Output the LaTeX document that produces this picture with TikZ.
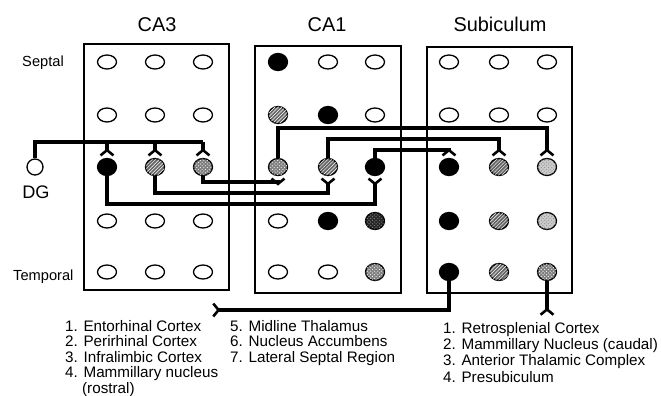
\documentclass[tikz,border=0pt]{standalone}
\usepackage{fontspec}
\setmainfont{Liberation Sans}
\usepackage{tikz}
\usetikzlibrary{arrows.meta}
\usetikzlibrary{positioning}
\usetikzlibrary{shapes.geometric}
\usetikzlibrary{patterns}
\usetikzlibrary{fit}
\tikzset{
  region/.style={rectangle,draw,line width=1pt,inner sep=0pt},
  cellopen/.style={ellipse,draw,line width=1.1pt,fill=white,minimum width=0.57cm,minimum height=0.42cm,inner sep=0pt},
  cellbase/.style={ellipse,draw,line width=1.1pt,minimum width=0.57cm,minimum height=0.51cm,inner sep=0pt},
  cellfull/.style={cellbase,fill=black},
  cellhatch/.style={cellbase,fill=black!60,postaction={pattern=north east lines,pattern color=white}},
  celldots/.style={cellbase,fill=black!50,postaction={pattern=crosshatch dots,pattern color=white}},
  celllight/.style={cellbase,fill=black!20,postaction={pattern=crosshatch dots,pattern color=black!45}},
  celldark/.style={cellbase,fill=black!85,postaction={pattern=crosshatch dots,pattern color=black!45}},
  wire/.style={line width=2.6pt},
  syn/.style={-{Straight Barb[reversed,length=4.5pt,width=11pt,line width=2.2pt]}},
  title/.style={font=\fontsize{17}{20}\selectfont,anchor=base},
  side/.style={font=\fontsize{12.5}{15}\selectfont,anchor=base west,inner sep=0pt},
  list/.style={align=left,anchor=north west,inner sep=0pt}
}
\begin{document}
\begin{tikzpicture}[x=0.03cm,y=-0.03cm]
  \useasboundingbox (0,0) rectangle (661,396);
  % regions
  \node [region,fit={(84,44) (229,290)}] (ca3) {};
  \node [region,fit={(255,46) (401,293)}] (ca1) {};
  \node [region,fit={(427,47) (572,293)}] (sub) {};
  \node [title] at (157,32) (ca3-t) {CA3};
  \node [title] at (327,32) (ca1-t) {CA1};
  \node [title] at (500,32) (sub-t) {Subiculum};
  \node [side] at (22,67) (septal) {Septal};
  \node [side] at (13,280) (temporal) {Temporal};
  % cells, septal (row 1) to temporal (row 5)
  \foreach \y/\a/\b/\c [count=\r] in {62/cellopen/cellopen/cellopen,
      115/cellopen/cellopen/cellopen, 167/cellfull/cellhatch/celldots,
      221/cellopen/cellopen/cellopen, 272/cellopen/cellopen/cellopen} {
    \node at (107,\y) [\a] (ca3-\r-1) {};
    \node at (155,\y) [\b] (ca3-\r-2) {};
    \node at (203,\y) [\c] (ca3-\r-3) {};
  }
  \foreach \y/\a/\b/\c [count=\r] in {62/cellfull/cellopen/cellopen,
      115/cellhatch/cellfull/cellopen, 167/celldots/cellhatch/cellfull,
      221/cellopen/cellfull/celldark, 272/cellopen/cellopen/celldots} {
    \node at (278,\y) [\a] (ca1-\r-1) {};
    \node at (328,\y) [\b] (ca1-\r-2) {};
    \node at (375,\y) [\c] (ca1-\r-3) {};
  }
  \foreach \y/\a/\b/\c [count=\r] in {62/cellopen/cellopen/cellopen,
      115/cellopen/cellopen/cellopen, 167/cellfull/cellhatch/celllight,
      221/cellfull/cellhatch/celllight, 272/cellfull/cellhatch/celldots} {
    \node at (449,\y) [\a] (sub-\r-1) {};
    \node at (499,\y) [\b] (sub-\r-2) {};
    \node at (547,\y) [\c] (sub-\r-3) {};
  }
  % dentate gyrus
  \node at (35,167) [circle,draw,line width=1.1pt,minimum size=0.48cm,inner sep=0pt] (dg) {};
  \node at (36,198) [font=\fontsize{15.5}{18}\selectfont,anchor=base] (dg-t) {DG};
  \draw [wire] (dg) |- (ca3-3-3 |- 0,142);
  \foreach \c in {1,2,3}
    \draw [wire,syn,shorten >=1pt] (ca3-3-\c |- 0,142) -- (ca3-3-\c);
  % CA3 -> CA1
  \draw [wire,syn,shorten >=1pt] (ca3-3-1) -- (ca3-3-1 |- 0,204) -| (ca1-3-3);
  \draw [wire,syn,shorten >=1pt] (ca3-3-2) -- (ca3-3-2 |- 0,193) -| (ca1-3-2);
  \draw [wire,syn,shorten >=1pt] (ca3-3-3) -- (ca3-3-3 |- 0,182) -| (ca1-3-1);
  % CA1 -> subiculum
  \draw [wire,syn,shorten >=1pt] (ca1-3-1) -- (ca1-3-1 |- 0,128) -| (sub-3-3);
  \draw [wire,syn,shorten >=1pt] (ca1-3-2) -- (ca1-3-2 |- 0,139) -| (sub-3-2);
  \draw [wire,syn,shorten >=1pt] (ca1-3-3) -- (ca1-3-3 |- 0,150) -| (sub-3-1);
  % subiculum outputs
  \coordinate (out-l) at (212,310);
  \coordinate (out-r) at (547,316);
  \draw [wire,syn] (sub-5-1) |- (out-l);
  \draw [wire,syn] (sub-5-3) -- (out-r);
  \node [list,font=\fontsize{13}{13.2}\selectfont] at (65,320) (list-a)
    {1. Entorhinal Cortex\\2. Perirhinal Cortex\\3. Infralimbic Cortex\\4. Mammillary nucleus\\\phantom{4.~}(rostral)};
  \node [list,font=\fontsize{13}{13.2}\selectfont] at (230,320) (list-b)
    {5. Midline Thalamus\\6. Nucleus Accumbens\\7. Lateral Septal Region};
  \node [list,font=\fontsize{13}{13.9}\selectfont] at (443,322) (list-c)
    {1. Retrosplenial Cortex\\2. Mammillary Nucleus (caudal)\\3. Anterior Thalamic Complex\\4. Presubiculum};
\end{tikzpicture}
\end{document}
